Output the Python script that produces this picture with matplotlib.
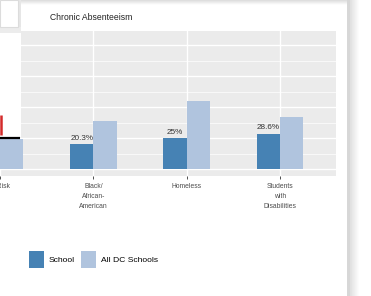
import numpy as np
import matplotlib.pyplot as plt
from matplotlib.patches import Rectangle

plt.rcParams['font.family'] = ['Liberation Sans', 'DejaVu Sans']

# data
categories = ["At-Risk", "Black/\nAfrican-\nAmerican", "Homeless", "Students\nwith\nDisabilities"]
school = [30.0, 20.3, 25.0, 28.6]
all_dc = [24.0, 39.0, 54.5, 41.7]
bar_labels = ["", "20.3%", "25%", "28.6%"]  # first one is hidden behind the overlay
series_names = ["School", "All DC Schools"]
colors = ["#4682B4", "#B0C4DE"]

W, H = 371, 296
fig = plt.figure(figsize=(W / 100, H / 100), dpi=100)
fig.patch.set_facecolor("white")

# plot panel (left part of it is cropped off by the screenshot)
ax = fig.add_axes([0, (H - 176) / H, 336 / W, 145 / H])
ax.set_facecolor("#EBEBEB")
x = np.arange(len(categories))
bw = 0.25
b1 = ax.bar(x - bw / 2, school, bw, color=colors[0], label=series_names[0], zorder=3)
b2 = ax.bar(x + bw / 2, all_dc, bw, color=colors[1], label=series_names[1], zorder=3)
for xi, v, lab in zip(x, school, bar_labels):
    if lab:
        ax.text(xi - bw / 2, v + 1.8, lab, ha="center", va="bottom", fontsize=5.9,
                color="#333333", zorder=4)

ax.set_xlim(4.5 / 94.5, 3.6)
ax.set_ylim(-5.6, 111.3)
ax.set_yticks([0, 25, 50, 75, 100])
ax.set_yticks([12.5, 37.5, 62.5, 87.5], minor=True)
ax.set_yticklabels([])
ax.tick_params(axis="y", which="both", length=0)
ax.set_xticks(x)
ax.set_xticklabels(categories, fontsize=4.9, color="#4D4D4D", linespacing=1.65)
ax.tick_params(axis="x", length=2.5, width=0.6, color="#333333", pad=2.5)
ax.grid(which="major", color="white", linewidth=1.0, zorder=0)
ax.grid(which="minor", axis="y", color="white", linewidth=0.5, zorder=0)
for s in ax.spines.values():
    s.set_visible(False)

fig.text(50 / W, 1 - 18 / H, "Chronic Absenteeism", fontsize=6.2, color="#222222",
         ha="left", va="center")

fs = 6.1
fig.legend(handles=[b1, b2], labels=series_names, loc="center left",
           bbox_to_anchor=(29 / W, 1 - 259.5 / H), ncol=2, frameon=False,
           fontsize=fs, handlelength=1.76, handleheight=2.75, handletextpad=0.6,
           columnspacing=0.75, borderpad=0, borderaxespad=0)

# page chrome around the chart (overlay, shadows)
ov = fig.add_axes([0, 0, 1, 1], zorder=10)
ov.set_xlim(0, W)
ov.set_ylim(H, 0)
ov.axis("off")
ov.patch.set_alpha(0)
ov.add_patch(Rectangle((0, 0), 21, 137, facecolor="white", edgecolor="none"))
ov.add_patch(Rectangle((18, 0), 3, 33, facecolor="#e6e6e6", edgecolor="none"))
ov.add_patch(Rectangle((0, 27), 21, 6, facecolor="#ececec", edgecolor="none"))
ov.add_patch(Rectangle((0, 0), 18, 27, facecolor="white", edgecolor="#dcdcdc", linewidth=0.8))
ov.plot([0, 20], [137.8, 137.8], color="black", linewidth=1.6, solid_capstyle="butt")
ov.plot([1.2, 1.2], [115, 135], color="#d42a2a", linewidth=1.8, solid_capstyle="butt")
top = np.linspace(0.86, 1.0, 20).reshape(-1, 1)
ov.imshow(top, cmap="gray", vmin=0, vmax=1, extent=(21, 347, 5, 0), aspect="auto")
side = np.concatenate([np.full(3, 0.84), np.linspace(0.88, 1.0, 10)]).reshape(1, -1)
ov.imshow(side, cmap="gray", vmin=0, vmax=1, extent=(347, 360, H, 0), aspect="auto")
ov.set_xlim(0, W)
ov.set_ylim(H, 0)

fig.savefig("out.png", dpi=100)
